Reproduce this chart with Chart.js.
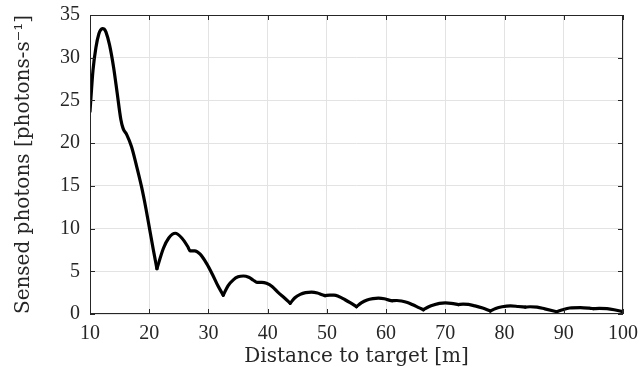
<!DOCTYPE html>
<html lang="en">
<head>
    <meta charset="UTF-8">
    <title>Sensed photons vs distance</title>
    <style>
        html, body { margin: 0; padding: 0; background: #ffffff; }
        #wrap { width: 641px; height: 369px; }
    </style>
    <script src="https://cdn.jsdelivr.net/npm/chart.js"></script>
</head>
<body>
<div id="wrap"><canvas id="photonChart" width="641" height="369"></canvas></div>
<script>
    // Distance to target [m]
    const distance = [
        10, 10.5, 11, 11.5, 11.8, 12.1, 12.4, 12.7, 13.3, 14, 14.6, 15.2, 15.6, 16.2, 17, 17.8, 18.7, 19.4, 20.1, 20.7, 21.3,
        22.4, 23.3, 24.4, 25.5, 26.5, 26.9, 27.7, 28.6, 29.7, 30.7, 31.6, 32.5,
        33.3, 34.2, 35, 35.9, 36.8, 37.6, 38.2, 39, 39.8, 40.8, 41.8, 42.8, 43.8,
        44.6, 45.5, 46.4, 47.4, 48.4, 49.2, 49.7, 50.5, 51.2, 52, 53, 54, 55,
        55.8, 56.8, 57.8, 58.7, 59.7, 60.5, 61, 61.8, 62.6, 63.6, 64.6, 65.5, 66.3,
        67.2, 68.2, 69, 70, 71, 72.2, 73, 73.9, 75, 76.3, 77.6,
        78.5, 79.6, 81, 82.3, 83.5, 84.3, 85.5, 86.8, 88.8,
        89.8, 91, 92.8, 94.3, 95, 96, 97.3, 98.5, 100
    ];
    // Sensed photons [photons-s^-1]
    const photons = [
        23.7, 28.5, 31.2, 32.8, 33.25, 33.4, 33.35, 33.0, 31.5, 28.8, 25.8, 22.8, 21.7, 21.0, 19.6, 17.5, 14.9, 12.5, 9.8, 7.5, 5.3,
        7.7, 8.9, 9.45, 8.9, 7.9, 7.4, 7.4, 7.0, 5.9, 4.6, 3.3, 2.2,
        3.3, 4.0, 4.35, 4.45, 4.3, 3.95, 3.7, 3.7, 3.6, 3.2, 2.5, 1.9, 1.25,
        1.9, 2.3, 2.5, 2.55, 2.45, 2.25, 2.15, 2.2, 2.2, 2.05, 1.7, 1.3, 0.85,
        1.3, 1.65, 1.8, 1.85, 1.78, 1.62, 1.55, 1.58, 1.52, 1.35, 1.05, 0.75, 0.5,
        0.85, 1.1, 1.25, 1.3, 1.25, 1.1, 1.15, 1.12, 0.95, 0.7, 0.35,
        0.65, 0.85, 0.95, 0.88, 0.8, 0.85, 0.8, 0.6, 0.27,
        0.5, 0.7, 0.75, 0.68, 0.62, 0.65, 0.62, 0.5, 0.27
    ];
    const xTicks = [10, 20, 30, 40, 50, 60, 70, 80, 90, 100];
    const yTicks = [0, 5, 10, 15, 20, 25, 30, 35];

    const points = distance.map((d, i) => ({ x: d, y: photons[i] }));
    const axisColor = '#262626';
    const tickFont = '"Liberation Serif", "DejaVu Serif", serif';
    const titleFont = '"DejaVu Serif", "Liberation Serif", serif';

    // the curve has sharp dips, so it is split at every local minimum and each
    // piece is smoothed on its own; the dips stay pointed that way
    const breaks = [0];
    for (let i = 1; i < photons.length - 1; i++) {
        if (photons[i] < photons[i - 1] && photons[i] < photons[i + 1]) breaks.push(i);
    }
    breaks.push(photons.length - 1);
    const datasets = breaks.slice(0, -1).map((b, k) => ({
        data: points.slice(b, breaks[k + 1] + 1),
        borderColor: '#000000',
        borderWidth: 3.2,
        borderCapStyle: 'round',
        pointRadius: 0,
        cubicInterpolationMode: 'monotone',
        fill: false
    }));

    // draws the box round the plot and the small inward ticks on all four sides
    const boxPlugin = {
        id: 'boxPlugin',
        afterDraw(chart) {
            const ctx = chart.ctx;
            const a = chart.chartArea;
            const xs = chart.scales.x, ys = chart.scales.y;
            ctx.save();
            ctx.strokeStyle = axisColor;
            ctx.lineWidth = 1;
            ctx.strokeRect(a.left + 0.5, a.top + 0.5, a.right - a.left - 1, a.bottom - a.top - 1);
            ctx.beginPath();
            xTicks.forEach(v => {
                const px = Math.round(xs.getPixelForValue(v)) + 0.5;
                ctx.moveTo(px, a.bottom); ctx.lineTo(px, a.bottom - 5);
                ctx.moveTo(px, a.top); ctx.lineTo(px, a.top + 5);
            });
            yTicks.forEach(v => {
                const py = Math.round(ys.getPixelForValue(v)) + 0.5;
                ctx.moveTo(a.left, py); ctx.lineTo(a.left + 5, py);
                ctx.moveTo(a.right, py); ctx.lineTo(a.right - 5, py);
            });
            ctx.stroke();
            ctx.restore();
        }
    };

    new Chart(document.getElementById('photonChart').getContext('2d'), {
        type: 'line',
        data: { datasets: datasets },
        options: {
            responsive: false,
            animation: false,
            layout: { padding: { top: 15, right: 18, left: 0, bottom: 0 } },
            plugins: {
                legend: { display: false },
                tooltip: { enabled: false }
            },
            scales: {
                x: {
                    type: 'linear',
                    min: 10,
                    max: 100,
                    afterBuildTicks: s => { s.ticks = xTicks.map(v => ({ value: v })); },
                    afterFit: s => { s.height = 55; s.paddingLeft = 0; s.paddingRight = 0; },
                    grid: { color: '#e3e3e3', drawTicks: false },
                    border: { display: false },
                    ticks: { color: axisColor, padding: 8, font: { family: tickFont, size: 20 } },
                    title: {
                        display: true,
                        text: 'Distance to target [m]',
                        color: axisColor,
                        padding: { top: 0, bottom: 0 },
                        font: { family: titleFont, size: 20 }
                    }
                },
                y: {
                    min: 0,
                    max: 35,
                    afterBuildTicks: s => { s.ticks = yTicks.map(v => ({ value: v })); },
                    afterFit: s => { s.width = 90; s.paddingTop = 0; s.paddingBottom = 0; },
                    grid: { color: '#e3e3e3', drawTicks: false },
                    border: { display: false },
                    ticks: { color: axisColor, padding: 10, font: { family: tickFont, size: 20 } },
                    title: {
                        display: true,
                        text: 'Sensed photons [photons-s\u207B\u00B9]',
                        color: axisColor,
                        padding: { top: 12, bottom: 0 },
                        font: { family: titleFont, size: 20 }
                    }
                }
            }
        },
        plugins: [boxPlugin]
    });
</script>
</body>
</html>
